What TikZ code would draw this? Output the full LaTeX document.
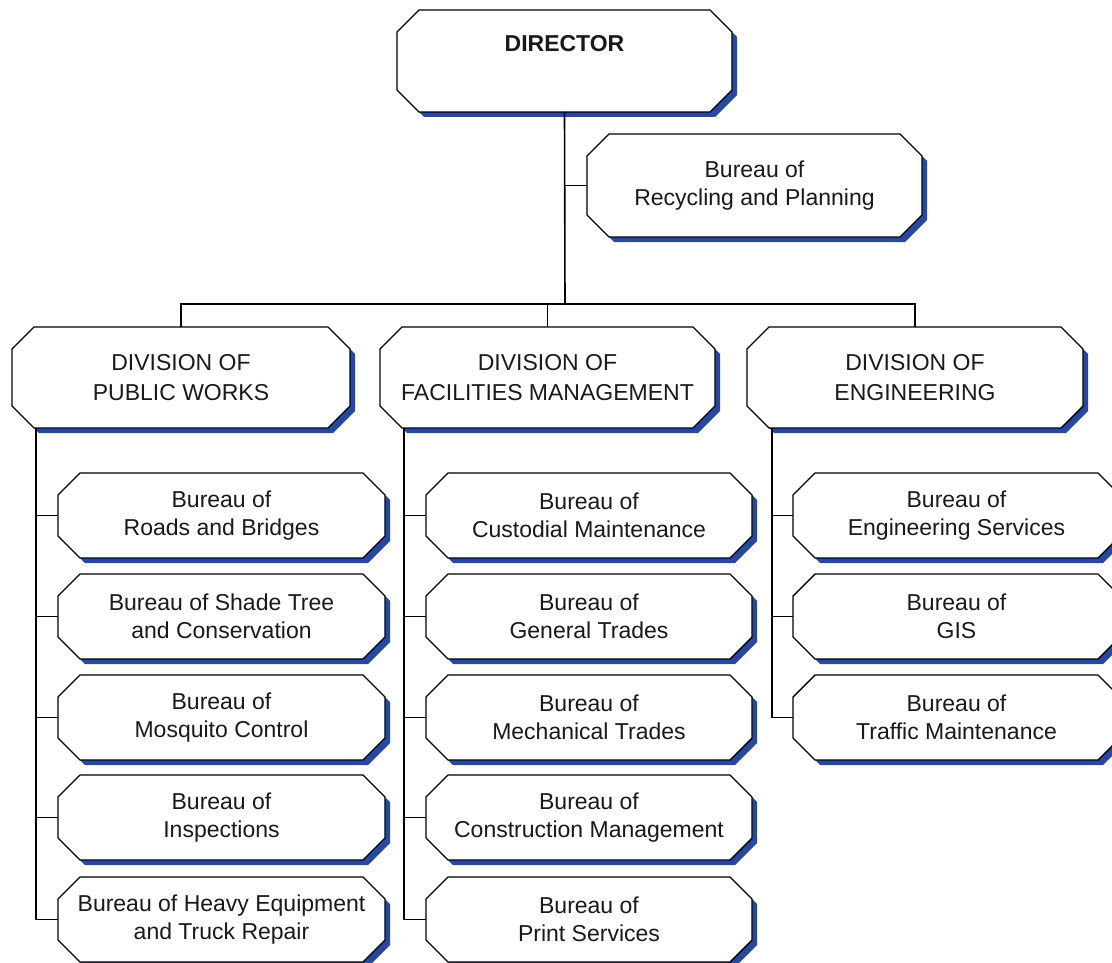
\documentclass[tikz,border=0pt]{standalone}
\usepackage{fontspec}
\setmainfont{Liberation Sans}
\definecolor{shadowc}{RGB}{38,72,158}
\definecolor{txtc}{RGB}{25,25,25}
\newcommand\ch{22}
\newcommand\sh{5}
\newcommand\orgbox[7]{% #1 name, #2 x1, #3 y1, #4 x2, #5 y2, #6 style, #7 text
  \fill[shadowc] ({#2+\sh+\ch},{#3+\sh}) -- ({#4+\sh-\ch},{#3+\sh}) -- ({#4+\sh},{#3+\sh+\ch}) -- ({#4+\sh},{#5+\sh-\ch}) -- ({#4+\sh-\ch},{#5+\sh}) -- ({#2+\sh+\ch},{#5+\sh}) -- ({#2+\sh},{#5+\sh-\ch}) -- ({#2+\sh},{#3+\sh+\ch}) -- cycle;
  \draw[boxline] ({#2+\ch},{#3}) -- ({#4-\ch},{#3}) -- ({#4},{#3+\ch}) -- ({#4},{#5-\ch}) -- ({#4-\ch},{#5}) -- ({#2+\ch},{#5}) -- ({#2},{#5-\ch}) -- ({#2},{#3+\ch}) -- cycle;
  \node[#6, minimum width={#4-#2}, minimum height={#5-#3}] (#1) at ({(#2+#4)/2},{(#3+#5)/2}) {#7};
}
\begin{document}
\begin{tikzpicture}[x=1pt,y=-1pt,
  boxline/.style={draw=black, line width=1.4pt, fill=white, line join=miter},
  btxt/.style={inner sep=0pt, outer sep=0pt, align=center, text=txtc,
    font=\fontsize{23}{28}\selectfont},
  dtxt/.style={inner sep=0pt, outer sep=0pt, align=center, text=txtc,
    font=\fontsize{23}{30}\selectfont},
  conn/.style={draw=black, line width=1.6pt}]
\path[use as bounding box, clip] (0,0) rectangle (1112,963);
\fill[white] (0,0) rectangle (1112,963);

% director and staff bureau
\orgbox{dir}{397}{10}{732}{112}{dtxt}{\textbf{DIRECTOR}\\[6pt]\mbox{}}
\orgbox{rec}{587}{134}{922}{237}{btxt}{Bureau of\\Recycling and Planning}

% divisions
\orgbox{pw}{12}{327}{350}{428}{dtxt}{DIVISION OF\\PUBLIC WORKS}
\orgbox{fm}{380}{327}{715}{428}{dtxt}{DIVISION OF\\FACILITIES MANAGEMENT}
\orgbox{en}{747}{327}{1083}{428}{dtxt}{DIVISION OF\\ENGINEERING}

% public works bureaus
\orgbox{pw1}{58}{473}{385}{558}{btxt}{Bureau of\\Roads and Bridges}
\orgbox{pw2}{58}{574}{385}{659}{btxt}{Bureau of Shade Tree\\and Conservation}
\orgbox{pw3}{58}{675}{385}{760}{btxt}{Bureau of\\Mosquito Control}
\orgbox{pw4}{58}{775}{385}{860}{btxt}{Bureau of\\Inspections}
\orgbox{pw5}{58}{877}{385}{962}{btxt}{Bureau of Heavy Equipment\\and Truck Repair}

% facilities bureaus
\orgbox{fm1}{426}{473}{752}{558}{btxt}{Bureau of\\Custodial Maintenance}
\orgbox{fm2}{426}{574}{752}{659}{btxt}{Bureau of\\General Trades}
\orgbox{fm3}{426}{675}{752}{760}{btxt}{Bureau of\\Mechanical Trades}
\orgbox{fm4}{426}{775}{752}{860}{btxt}{Bureau of\\Construction Management}
\orgbox{fm5}{426}{877}{752}{962}{btxt}{Bureau of\\Print Services}

% engineering bureaus
\orgbox{en1}{793}{473}{1120}{558}{btxt}{Bureau of\\Engineering Services}
\orgbox{en2}{793}{574}{1120}{659}{btxt}{Bureau of\\GIS}
\orgbox{en3}{793}{675}{1120}{760}{btxt}{Bureau of\\Traffic Maintenance}

% connectors
\coordinate (bar) at (565,304);
\draw[conn] (dir.south) -- (bar);
\draw[conn] (rec.west) -- (rec.west -| dir.south);
\draw[conn] (pw.north) |- (bar);
\draw[conn] (en.north) |- (bar);
\draw[conn] (fm.north) -- (fm.north |- bar);

\coordinate (pwt) at ([xshift=24pt]pw.south west);
\coordinate (fmt) at ([xshift=24pt]fm.south west);
\coordinate (ent) at ([xshift=25pt]en.south west);
\draw[conn] (pwt) |- (pw5.west);
\foreach \b in {pw1,pw2,pw3,pw4} \draw[conn] (\b.west) -- (\b.west -| pwt);
\draw[conn] (fmt) |- (fm5.west);
\foreach \b in {fm1,fm2,fm3,fm4} \draw[conn] (\b.west) -- (\b.west -| fmt);
\draw[conn] (ent) |- (en3.west);
\foreach \b in {en1,en2} \draw[conn] (\b.west) -- (\b.west -| ent);
\end{tikzpicture}
\end{document}
